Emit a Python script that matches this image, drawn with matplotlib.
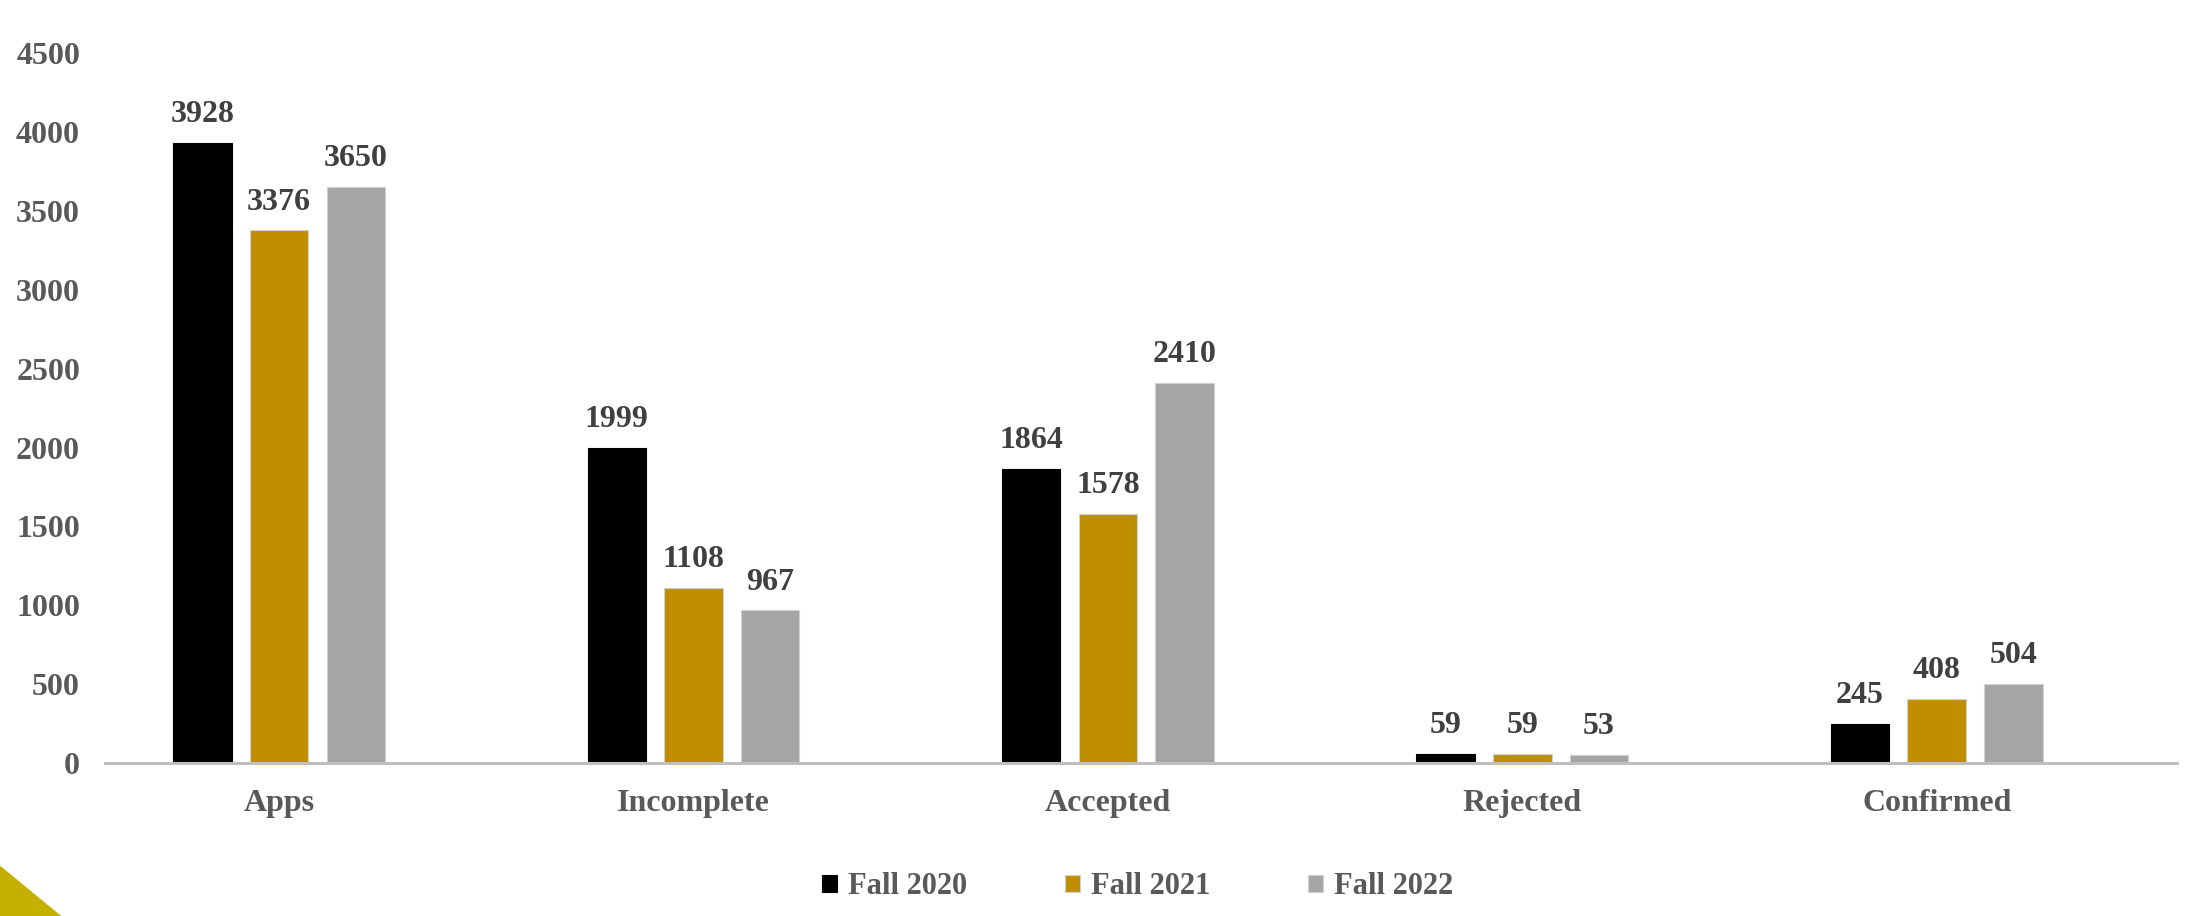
import matplotlib.pyplot as plt
import numpy as np
from matplotlib.patches import Polygon

categories = ['Apps', 'Incomplete', 'Accepted', 'Rejected', 'Confirmed']
series_names = ['Fall 2020', 'Fall 2021', 'Fall 2022']
fall_2020 = [3928, 1999, 1864, 59, 245]
fall_2021 = [3376, 1108, 1578, 59, 408]
fall_2022 = [3650, 967, 2410, 53, 504]
yticks = [0, 500, 1000, 1500, 2000, 2500, 3000, 3500, 4000, 4500]

colors = ['#000000', '#BF8F00', '#A5A5A5']

plt.rcParams['font.family'] = ['Liberation Serif', 'DejaVu Serif']
plt.rcParams['font.weight'] = 'bold'

fig = plt.figure(figsize=(21.88, 9.16), dpi=100)
ax = fig.add_axes([0.048, 0.167, 0.947, 0.775])

x = np.arange(len(categories))
width = 0.141
step = 0.185

for i, (vals, name) in enumerate(zip([fall_2020, fall_2021, fall_2022], series_names)):
    bars = ax.bar(x + (i - 1) * step, vals, width, color=colors[i], label=name,
                  edgecolor='#D0D0D0' if i > 0 else colors[i], linewidth=0.8, zorder=2)
    # 数据标签
    for b, v in zip(bars, vals):
        ax.annotate(str(v), (b.get_x() + b.get_width() / 2, v), xytext=(0, 10),
                    textcoords='offset points', ha='center', va='bottom',
                    fontsize=23, fontweight='bold', color='#404040')

ax.set_xlim(-0.42, 4.58)
ax.set_ylim(0, 4500)
ax.set_yticks(yticks)
ax.set_xticks(x)
ax.set_xticklabels(categories)
ax.tick_params(axis='both', length=0, labelsize=23, labelcolor='#595959')
ax.tick_params(axis='y', pad=18)
ax.tick_params(axis='x', pad=19)
for s in ['top', 'right', 'left']:
    ax.spines[s].set_visible(False)
ax.spines['bottom'].set_color('#BFBFBF')
ax.spines['bottom'].set_linewidth(2.2)
ax.spines['bottom'].set_zorder(3)

leg = fig.legend(loc='center', bbox_to_anchor=(0.52, 0.032), ncol=3, frameon=False,
                 handlelength=0.5, handleheight=0.5, handletextpad=0.35,
                 columnspacing=3.2, prop={'size': 22, 'weight': 'bold'})
for t in leg.get_texts():
    t.set_color('#595959')

# 左下角装饰三角
fig.patches.append(Polygon([[0, 0], [0, 0.055], [0.028, 0]], closed=True,
                           transform=fig.transFigure, facecolor='#C4B000',
                           edgecolor='none'))

fig.savefig('out.png', dpi=100)
